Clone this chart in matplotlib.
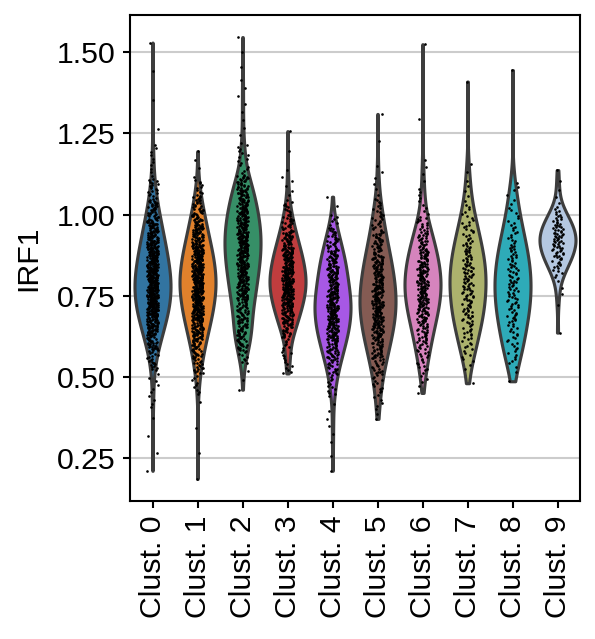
import colorsys

import numpy as np
import matplotlib
matplotlib.use('Agg')
import matplotlib.pyplot as plt
import matplotlib.colors as mcolors

plt.rcParams['font.family'] = ['Liberation Sans', 'DejaVu Sans']
plt.rcParams['font.size'] = 14.5

# categories and colours
clusters = ['Clust. 0', 'Clust. 1', 'Clust. 2', 'Clust. 3', 'Clust. 4',
            'Clust. 5', 'Clust. 6', 'Clust. 7', 'Clust. 8', 'Clust. 9']
palette = ['#1f77b4', '#ff7f0e', '#279e68', '#d62728', '#aa40fc',
           '#8c564b', '#e377c2', '#b5bd61', '#17becf', '#aec7e8']
n_cells = [700, 650, 550, 420, 400, 380, 300, 160, 130, 90]

# IRF1 quantiles per cluster
probs = [0, 0.005, 0.02, 0.05, 0.1, 0.2, 0.35, 0.5, 0.65, 0.8, 0.9, 0.95, 0.98, 0.995, 1]
q0 = [0.21, 0.40, 0.52, 0.582, 0.627, 0.683, 0.742, 0.795, 0.851, 0.920, 0.987, 1.043, 1.11, 1.22, 1.53]
q1 = [0.185, 0.44, 0.51, 0.560, 0.611, 0.672, 0.736, 0.79, 0.844, 0.908, 0.969, 1.015, 1.06, 1.11, 1.195]
q2 = [0.46, 0.54, 0.58, 0.61, 0.652, 0.735, 0.819, 0.886, 0.948, 1.016, 1.078, 1.12, 1.22, 1.42, 1.547]
q3 = [0.51, 0.52, 0.56, 0.621, 0.660, 0.707, 0.757, 0.799, 0.843, 0.896, 0.948, 0.991, 1.04, 1.13, 1.257]
q4 = [0.21, 0.30, 0.44, 0.505, 0.555, 0.612, 0.671, 0.722, 0.775, 0.839, 0.89, 0.93, 0.96, 1.00, 1.055]
q5 = [0.37, 0.40, 0.45, 0.505, 0.556, 0.619, 0.685, 0.742, 0.801, 0.872, 0.941, 0.998, 1.05, 1.15, 1.31]
q6 = [0.45, 0.48, 0.52, 0.560, 0.606, 0.667, 0.729, 0.780, 0.831, 0.890, 0.946, 0.992, 1.08, 1.18, 1.525]
q7 = [0.48, 0.52, 0.55, 0.58, 0.620, 0.675, 0.737, 0.794, 0.849, 0.914, 0.977, 1.029, 1.10, 1.16, 1.41]
q8 = [0.486, 0.51, 0.54, 0.565, 0.600, 0.660, 0.725, 0.783, 0.841, 0.908, 0.973, 1.026, 1.08, 1.10, 1.445]
q9 = [0.636, 0.70, 0.75, 0.804, 0.830, 0.861, 0.892, 0.919, 0.944, 0.974, 1.002, 1.025, 1.08, 1.12, 1.137]
quantiles = [q0, q1, q2, q3, q4, q5, q6, q7, q8, q9]

yticks = [0.25, 0.50, 0.75, 1.00, 1.25, 1.50]


def desaturate(color, prop):
    r, g, b = mcolors.to_rgb(color)
    h, l, s = colorsys.rgb_to_hls(r, g, b)
    return colorsys.hls_to_rgb(h, l, s * prop)


def kde_outline(vals, gridsize=120):
    bw = vals.std(ddof=1) * len(vals) ** (-0.2)
    grid = np.linspace(vals.min(), vals.max(), gridsize)
    dens = np.exp(-0.5 * ((grid[:, None] - vals[None, :]) / bw) ** 2).sum(axis=1)
    return grid, dens / dens.max()


fig, ax = plt.subplots(figsize=(595 / 150, 639 / 150), dpi=150)
fig.subplots_adjust(left=0.2185, right=0.9748, top=0.9765, bottom=0.216)

for i, (q, n) in enumerate(zip(quantiles, n_cells)):
    vals = np.interp(np.linspace(0, 1, n), probs, q)
    grid, dens = kde_outline(vals)
    half = 0.4 * dens
    ax.fill_betweenx(grid, i - half, i + half, facecolor=desaturate(palette[i], 0.75),
                     edgecolor='#3d3d3d', linewidth=1.5, zorder=2)
    # strip jitter (hash-based so it is stable between runs)
    k = np.arange(n) + 17 * i
    jit = ((np.sin(k * 12.9898) * 43758.5453) % 1 - 0.5) * 0.24
    ax.scatter(i + jit, vals, s=1.6, c='black', linewidths=0, zorder=3)

ax.set_xlim(-0.5, 9.5)
ax.margins(y=0.05)
ax.set_xticks(range(len(clusters)))
ax.set_xticklabels(clusters, rotation=90)
ax.set_yticks(yticks)
ax.set_yticklabels([f'{t:.2f}' for t in yticks])
ax.set_ylabel('IRF1', labelpad=7)
ax.yaxis.grid(True, color='#cccccc', linewidth=1.0, zorder=0)
ax.set_axisbelow(True)
for sp in ax.spines.values():
    sp.set_linewidth(1.0)
    sp.set_color('black')
ax.tick_params(axis='both', direction='out', length=3.5, width=1.0, labelsize=14.5)

fig.savefig('out.png', dpi=150)
